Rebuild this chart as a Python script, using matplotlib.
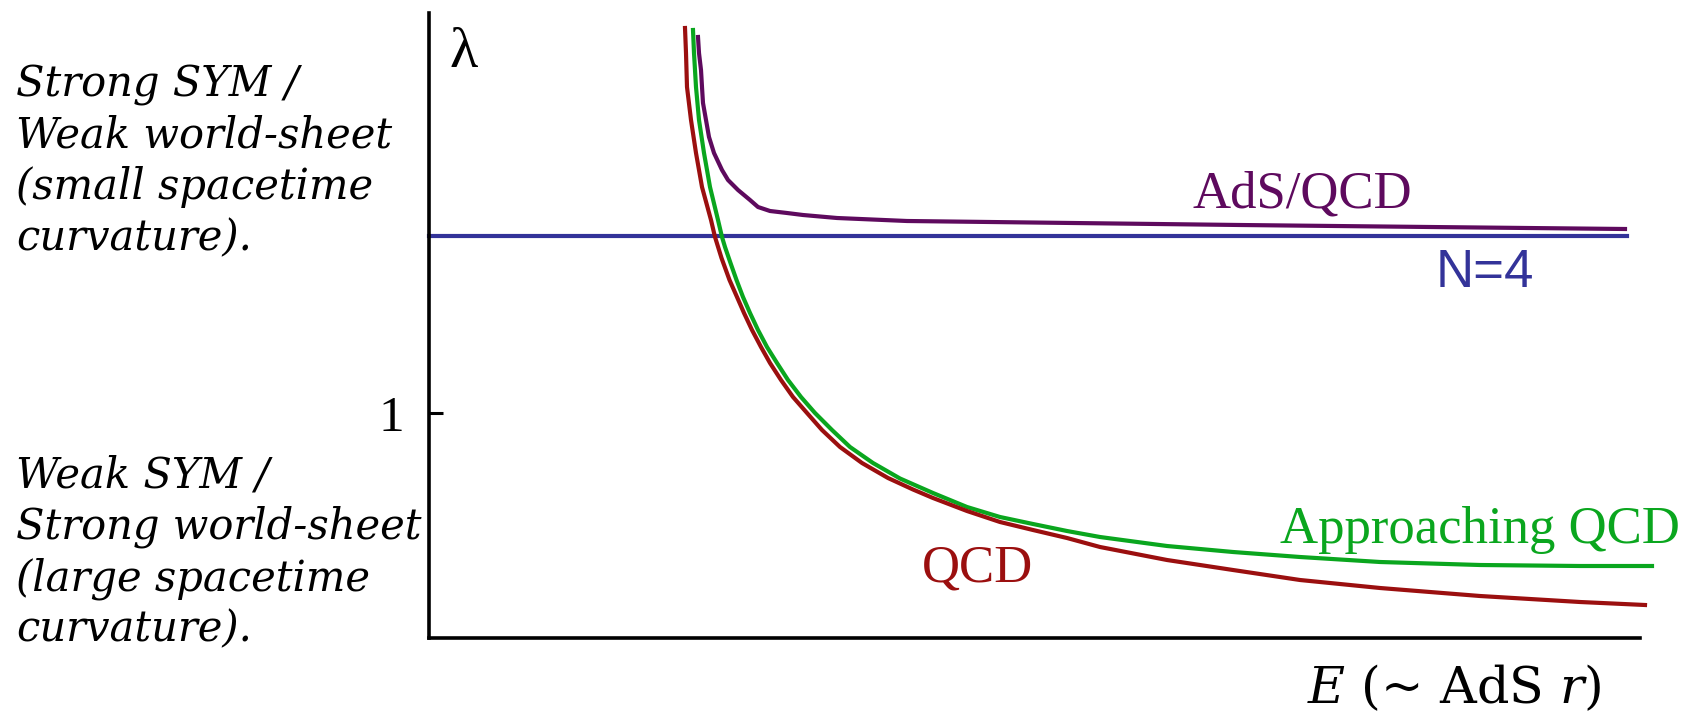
import matplotlib
matplotlib.use("Agg")
import matplotlib.pyplot as plt

plt.rcParams["font.family"] = ["Liberation Serif", "DejaVu Serif"]
plt.rcParams["mathtext.fontset"] = "custom"
plt.rcParams["mathtext.rm"] = "DejaVu Serif"
plt.rcParams["mathtext.it"] = "DejaVu Serif:italic"

# energy scale E and coupling lambda, arbitrary units
qcd_E = [2.56, 2.57, 2.58, 2.62, 2.67, 2.73, 2.82, 2.86, 2.925, 3.005, 3.08,
         3.15, 3.23, 3.32, 3.41, 3.52, 3.64, 3.78, 3.93, 4.11, 4.33, 4.59,
         4.84, 5.04, 5.38, 5.71, 6.04, 6.38, 6.71, 7.38, 8.04, 8.71, 9.51,
         10.51, 11.51, 12.16]
qcd_lam = [6.10, 5.85, 5.51, 5.18, 4.85, 4.51, 4.18, 4.01, 3.80, 3.58, 3.41,
           3.25, 3.08, 2.91, 2.75, 2.58, 2.41, 2.25, 2.08, 1.91, 1.75, 1.60,
           1.485, 1.40, 1.27, 1.16, 1.08, 1.00, 0.91, 0.78, 0.68, 0.58, 0.50,
           0.42, 0.36, 0.33]

approach_E = [2.64, 2.65, 2.67, 2.70, 2.75, 2.81, 2.89, 2.93, 2.96, 3.015,
              3.075, 3.14, 3.21, 3.29, 3.38, 3.48, 3.59, 3.72, 3.86, 4.03,
              4.21, 4.44, 4.71, 5.04, 5.38, 5.71, 6.04, 6.38, 6.71, 7.38,
              8.04, 8.71, 9.51, 10.51, 11.51, 12.23]
approach_lam = [6.08, 5.85, 5.51, 5.18, 4.85, 4.51, 4.18, 4.01, 3.91, 3.75,
                3.58, 3.41, 3.25, 3.08, 2.91, 2.75, 2.58, 2.41, 2.25, 2.08,
                1.91, 1.75, 1.595, 1.45, 1.31, 1.21, 1.14, 1.07, 1.01, 0.92,
                0.86, 0.81, 0.76, 0.73, 0.72, 0.72]

ads_E = [2.69, 2.70, 2.72, 2.73, 2.74, 2.77, 2.80, 2.85, 2.93, 2.99, 3.09,
         3.21, 3.29, 3.41, 3.58, 3.74, 4.08, 4.78, 6.44, 8.11, 10.01, 11.96]
ads_lam = [6.01, 5.85, 5.68, 5.51, 5.35, 5.18, 5.01, 4.85, 4.68, 4.58, 4.48,
           4.38, 4.31, 4.27, 4.25, 4.23, 4.20, 4.17, 4.15, 4.13, 4.11, 4.09]

n4_E = [0.0, 11.98]
n4_lam = [4.02, 4.02]

lam_one = 2.25  # where lambda = 1

RED = "#9b0f0f"
GREEN = "#0aa61e"
PURPLE = "#5e0a5e"
BLUE = "#333399"

W, H = 1690, 721
fig = plt.figure(figsize=(W / 100, H / 100), dpi=100)
ax = fig.add_axes([429 / W, (H - 638) / H, 1211 / W, 625 / H])
ax.set_xlim(0, 12.11)
ax.set_ylim(0, 6.25)

ax.plot(n4_E, n4_lam, color=BLUE, lw=3.0, clip_on=False, zorder=2)
ax.plot(ads_E, ads_lam, color=PURPLE, lw=3.0, clip_on=False, zorder=3)
ax.plot(approach_E, approach_lam, color=GREEN, lw=3.0, clip_on=False, zorder=3)
ax.plot(qcd_E, qcd_lam, color=RED, lw=3.0, clip_on=False, zorder=3)

for side in ("top", "right"):
    ax.spines[side].set_visible(False)
for side in ("left", "bottom"):
    ax.spines[side].set_linewidth(2.6)
ax.set_xticks([])
ax.set_yticks([lam_one], ["1"])
ax.tick_params(axis="y", direction="in", length=10, width=2.2, pad=18,
               labelsize=37)

lab = dict(fontsize=38, va="baseline", ha="center")
ax.text(8.73, 4.31, "AdS/QCD", color=PURPLE, **lab)
ax.text(10.56, 3.51, "N=4", color=BLUE, family="Liberation Sans", **lab)
ax.text(10.51, 0.95, "Approaching QCD", color=GREEN, **lab)
ax.text(5.48, 0.56, "QCD", color=RED, **lab)
ax.text(0.21, 5.71, "λ", fontsize=42, va="baseline", ha="left")

fig.text(1307 / W, 1 - 703 / H, r"$E$ (~ AdS $r$)", fontsize=36.5,
         family="DejaVu Serif", ha="left", va="baseline")

strong = ["Strong SYM /", "Weak world-sheet", "(small spacetime",
          "curvature)."]
weak = ["Weak SYM /", "Strong world-sheet", "(large spacetime",
        "curvature)."]
side = dict(fontsize=30, family="DejaVu Serif", style="italic",
            ha="left", va="baseline")
for i, line in enumerate(strong):
    fig.text(16 / W, 1 - (97 + 51 * i) / H, line, **side)
for i, line in enumerate(weak):
    fig.text(16 / W, 1 - (488 + 51 * i) / H, line, **side)

fig.savefig("out.png", dpi=100)
